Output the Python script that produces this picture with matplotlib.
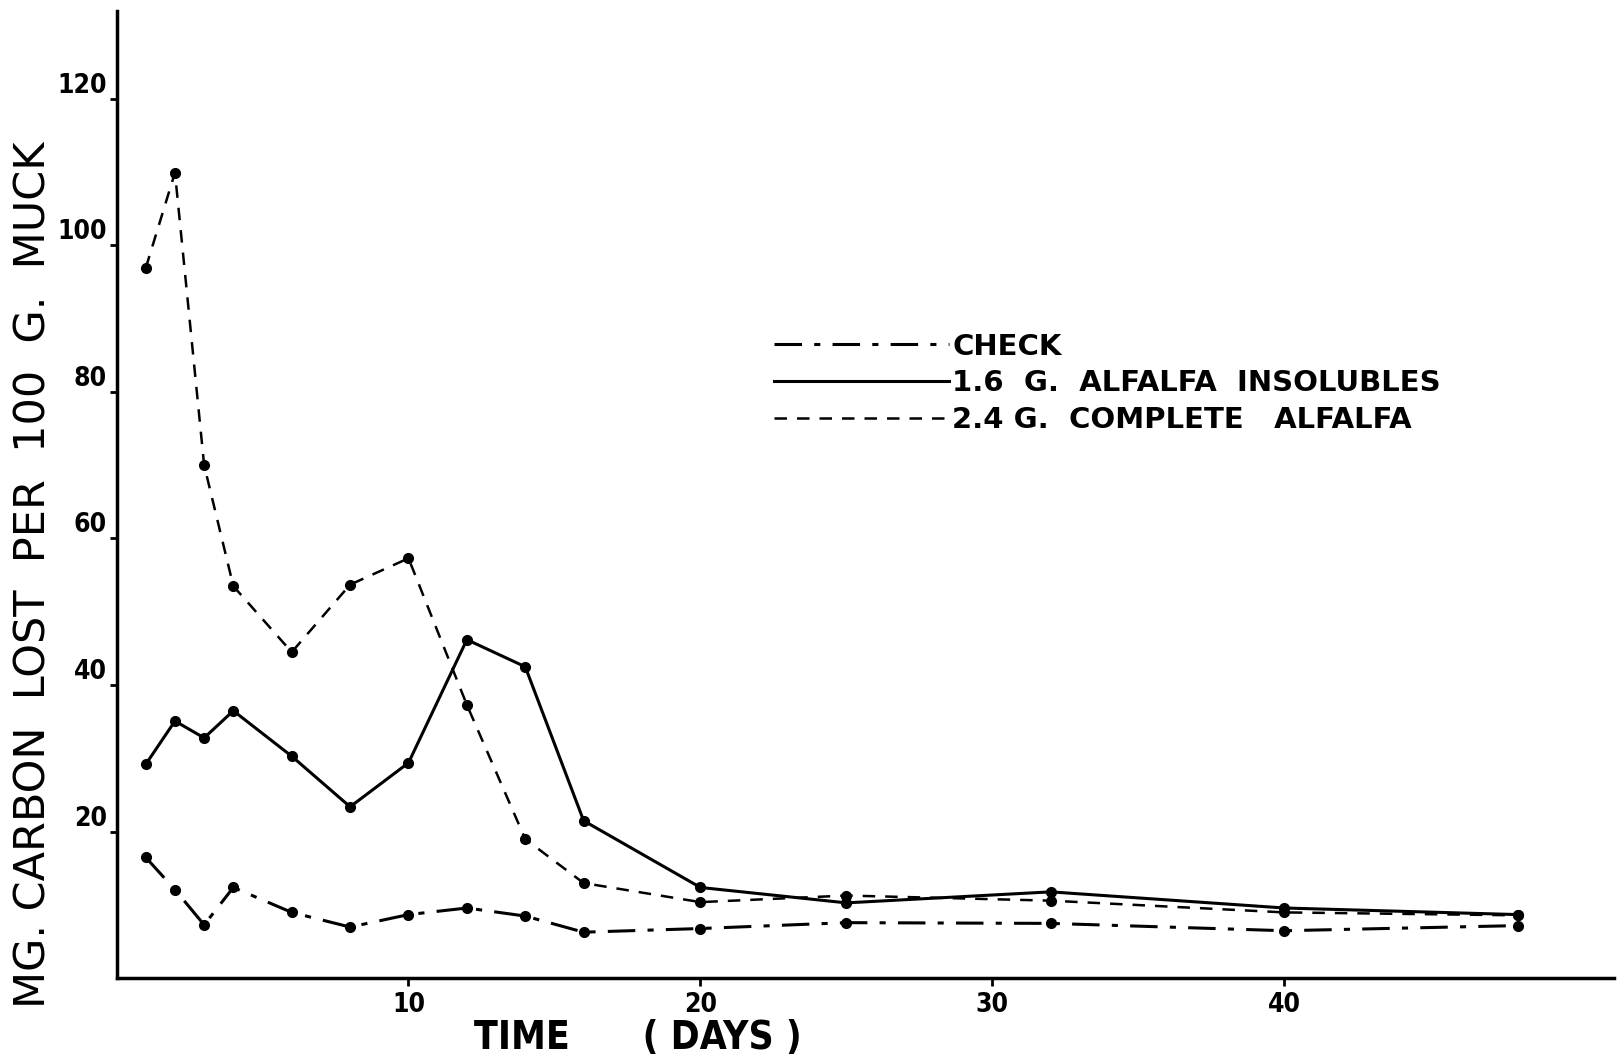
import matplotlib
matplotlib.use('Agg')
import matplotlib.pyplot as plt
import numpy as np

# days of sampling and carbon lost (mg per 100 g muck)
days = [1, 2, 3, 4, 6, 8, 10, 12, 14, 16, 20, 25, 32, 40, 48]
check = [16.5, 12.1, 7.3, 12.4, 9.0, 7.0, 8.7, 9.6, 8.5, 6.3, 6.8, 7.6, 7.5, 6.5, 7.2]
insolubles = [29.2, 35.1, 32.8, 36.5, 30.3, 23.4, 29.4, 46.2, 42.5, 21.5, 12.4, 10.3, 11.8, 9.6, 8.7]
complete = [96.9, 109.9, 70.0, 53.5, 44.5, 53.7, 57.3, 37.3, 19.0, 13.0, 10.4, 11.3, 10.6, 9.0, 8.6]

labels = ['CHECK', '1.6  G.  ALFALFA  INSOLUBLES', '2.4 G.  COMPLETE   ALFALFA']
xticks = [10, 20, 30, 40]
yticks = [20, 40, 60, 80, 100, 120]

font = {'family': 'DejaVu Sans', 'weight': 'bold', 'stretch': 'condensed'}

fig = plt.figure(figsize=(16.19, 10.60), dpi=100)
ax = fig.add_axes([0.072, 0.077, 0.925, 0.913])

l1, = ax.plot(days, check, color='black', lw=2.2, dashes=(9, 4, 2, 4),
              marker='o', ms=7)
l2, = ax.plot(days, insolubles, color='black', lw=2.2, linestyle='-',
              marker='o', ms=7)
l3, = ax.plot(days, complete, color='black', lw=1.8, dashes=(5, 4),
              marker='o', ms=7)

ax.set_xlim(0, 51.3)
ax.set_ylim(0, 132)
ax.spines['top'].set_visible(False)
ax.spines['right'].set_visible(False)
ax.spines['left'].set_linewidth(2.5)
ax.spines['bottom'].set_linewidth(2.5)

ax.set_xticks(xticks)
ax.set_xticklabels([str(t) for t in xticks], fontsize=19, **font)
ax.set_yticks(yticks)
ax.set_yticklabels([str(t) for t in yticks], fontsize=19, **font)
for lab in ax.get_yticklabels():
    lab.set_va('bottom')
ax.tick_params(axis='y', direction='out', length=5, width=2, pad=2)
ax.tick_params(axis='x', direction='out', length=6, width=2, pad=4)

fig.text(0.021, 0.458, 'MG. CARBON  LOST  PER  100  G.  MUCK', rotation=90,
         ha='center', va='center', fontsize=31, family='DejaVu Sans')
fig.text(0.394, 0.021, 'TIME      ( DAYS )', ha='center', va='center',
         fontsize=28, **font)

leg = fig.legend([l1, l2, l3], labels, loc='upper left',
                 bbox_to_anchor=(0.462, 0.711), frameon=False,
                 handlelength=6.0, handletextpad=0.1, labelspacing=0.3,
                 prop={'size': 21, 'weight': 'bold', 'family': 'DejaVu Sans'})
for h in leg.legend_handles:
    h.set_marker('')

fig.savefig('out.png', dpi=100)
